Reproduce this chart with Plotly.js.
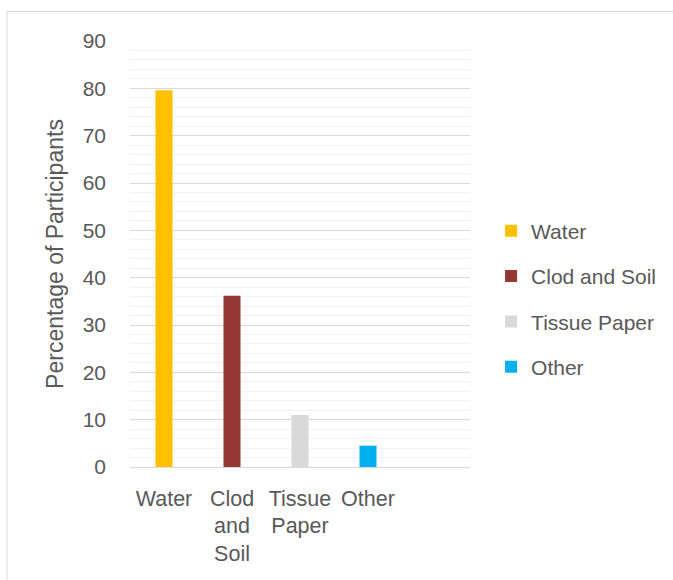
<!DOCTYPE html>
<html>
<head>
<meta charset="utf-8">
<script src="https://cdn.plot.ly/plotly-3.0.1.min.js"></script>
<style>
  html, body { margin: 0; padding: 0; background: #ffffff; }
  #chart { width: 673px; height: 580px; }
</style>
</head>
<body>
<div id="chart"></div>
<script>
// Data
const categories = ['Water', 'Clod<br>and<br>Soil', 'Tissue<br>Paper', 'Other'];
const seriesNames = ['Water', 'Clod and Soil', 'Tissue Paper', 'Other'];
const values = [79.6, 36.2, 11.0, 4.5];
const colors = ['#FFC000', '#953735', '#D9D9D9', '#00B0F0'];
const yTickValues = [0, 10, 20, 30, 40, 50, 60, 70, 80, 90];

const FONT = 'Liberation Sans, Arial, sans-serif';
const TXT = '#595959';

const traces = seriesNames.map((name, i) => ({
  type: 'bar',
  name: name,
  x: [categories[i]],
  y: [values[i]],
  width: 0.25,
  marker: { color: colors[i] },
  legendgroup: 'g' + i,
  hoverinfo: 'x+y'
}));

const layout = {
  width: 673,
  height: 580,
  paper_bgcolor: '#ffffff',
  plot_bgcolor: '#ffffff',
  margin: { l: 130, r: 203, t: 41, b: 113, autoexpand: false },
  barmode: 'overlay',
  showlegend: true,
  font: { family: FONT, color: TXT, size: 21 },
  xaxis: {
    type: 'category',
    categoryorder: 'array',
    categoryarray: categories,
    range: [-0.5, 4.5],
    showgrid: false,
    showline: false,
    zeroline: false,
    ticks: '',
    tickfont: { family: FONT, color: TXT, size: 21.5 },
    ticklabelstandoff: 16
  },
  yaxis: {
    range: [0, 90],
    tickvals: yTickValues,
    ticktext: yTickValues.map(String),
    showgrid: true,
    gridcolor: '#D9D9D9',
    gridwidth: 1,
    minor: { dtick: 2, showgrid: true, gridcolor: '#F2F2F2', gridwidth: 1 },
    zeroline: true,
    zerolinecolor: '#D9D9D9',
    zerolinewidth: 1,
    showline: false,
    ticks: '',
    tickfont: { family: FONT, color: TXT, size: 21 },
    ticklabelstandoff: 23,
    title: { text: 'Percentage of Participants', font: { family: FONT, color: TXT, size: 23 }, standoff: 12 }
  },
  legend: {
    x: 1.062,
    xanchor: 'left',
    y: 0.394,
    yanchor: 'middle',
    font: { family: FONT, color: TXT, size: 21 },
    tracegroupgap: 15,
    itemwidth: 30,
    bgcolor: 'rgba(0,0,0,0)'
  },
  shapes: [{
    type: 'rect',
    xref: 'paper', yref: 'paper',
    x0: (7 - 130) / 340, x1: (720 - 130) / 340,
    y0: (467 - 620) / 426, y1: (467 - 11.5) / 426,
    line: { color: '#D9D9D9', width: 1 },
    fillcolor: 'rgba(0,0,0,0)',
    layer: 'below'
  }]
};

Plotly.newPlot('chart', traces, layout, { displayModeBar: false, staticPlot: true });
</script>
</body>
</html>
